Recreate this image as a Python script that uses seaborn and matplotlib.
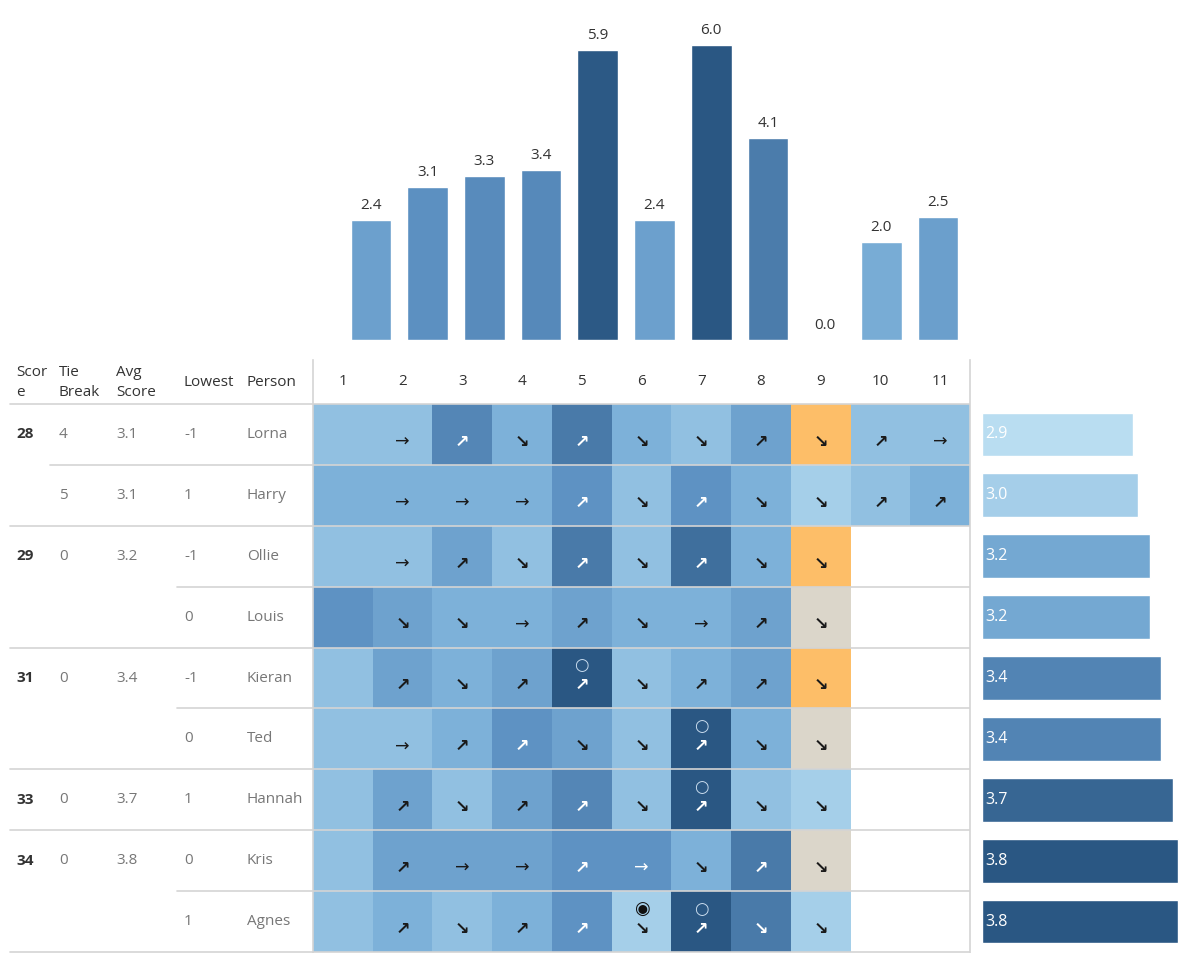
import numpy as np
import pandas as pd
import matplotlib
matplotlib.use("Agg")
import matplotlib.pyplot as plt
from matplotlib.colors import LinearSegmentedColormap, ListedColormap, Normalize
import seaborn as sns

# === Data ===
people = ["Lorna", "Harry", "Ollie", "Louis", "Kieran", "Ted", "Hannah", "Kris", "Agnes"]
rounds = ["1", "2", "3", "4", "5", "6", "7", "8", "9", "10", "11"]
tie_break = [4, 5, 0, 0, 0, 0, 0, 0, 0]

nan = np.nan
lorna = [2, 2, 6, 3, 7, 3, 2, 4, -1, 2, 2]
harry = [3, 3, 3, 3, 5, 2, 5, 3, 1, 2, 3]
ollie = [2, 2, 4, 2, 7, 2, 8, 3, -1, nan, nan]
louis = [5, 4, 3, 3, 4, 3, 3, 4, 0, nan, nan]
kieran = [2, 4, 3, 4, 10, 2, 3, 4, -1, nan, nan]
ted = [2, 2, 3, 5, 4, 2, 10, 3, 0, nan, nan]
hannah = [2, 4, 2, 4, 6, 2, 10, 2, 1, nan, nan]
kris = [2, 4, 4, 4, 5, 5, 3, 7, 0, nan, nan]
agnes = [2, 3, 2, 3, 5, 1, 10, 7, 1, nan, nan]

lowest_round = "9"

df = pd.DataFrame([lorna, harry, ollie, louis, kieran, ted, hannah, kris, agnes],
                  index=people, columns=rounds)

# === Derived values ===
score = df.loc[:, "1":lowest_round].sum(axis=1).astype(int)
avg_score = score / 9
lowest = df[lowest_round].astype(int)
row_means = df.mean(axis=1)
col_means = df.mean(axis=0)

# === Colours ===
tab_blue = LinearSegmentedColormap.from_list(
    "tab_blue", [(0, "#b9ddf1"), (0.3, "#7db1d9"), (0.5, "#5e92c3"), (1, "#2a5783")])
low_cmap = ListedColormap(["#fdbe68", "#dbd6ca"])
GRID = "#d4d4d4"
TXT = "#333333"
GREY = "#777777"

sns.set_theme(style="white")
plt.rcParams["font.family"] = ["Open Sans", "DejaVu Sans"]

W, H = 1200, 963
fig = plt.figure(figsize=(12, 9.63), dpi=100)


def px_axes(x0, y0, x1, y1):
    return fig.add_axes([x0 / W, 1 - y1 / H, (x1 - x0) / W, (y1 - y0) / H])


# === Top bars: round averages ===
ax_top = px_axes(342.6, 20, 966.4, 340)
top_norm = Normalize(0, col_means.max())
top_colors = [tab_blue(top_norm(v)) for v in col_means]
sns.barplot(x=rounds, y=col_means.values, hue=rounds, palette=top_colors, legend=False,
            width=0.72, saturation=1, ax=ax_top)
for k, v in enumerate(col_means.values):
    ax_top.annotate(f"{v:.1f}", (k, v), xytext=(0, 5), textcoords="offset points",
                    ha="center", va="bottom", fontsize=11, color=TXT)
ax_top.set_xlim(-0.5, 10.5)
ax_top.set_ylim(0, 6.5)
ax_top.axis("off")

# === Heatmap ===
ax_hm = px_axes(313, 404, 970, 952)
blue_part = df.where(df >= 1)
low_part = df.where(df <= 0)
sns.heatmap(blue_part, cmap=tab_blue, vmin=0, vmax=10, cbar=False, linewidths=0, ax=ax_hm)
sns.heatmap(low_part, cmap=low_cmap, vmin=-1.5, vmax=0.5, cbar=False, linewidths=0, ax=ax_hm)
vals = df.values
for i in range(len(people)):
    for j in range(len(rounds)):
        v = vals[i, j]
        if np.isnan(v):
            continue
        if j > 0 and not np.isnan(vals[i, j - 1]):
            d = v - vals[i, j - 1]
            sym = "→" if d == 0 else ("↗" if d > 0 else "↘")
            col = "white" if v >= 5 else "#1a1a1a"
            ax_hm.text(j + 0.5, i + 0.62, sym, ha="center", va="center", fontsize=12.5,
                       color=col, family="DejaVu Sans", fontweight="bold" if d != 0 else "normal")
        if v >= 10:
            ax_hm.text(j + 0.5, i + 0.29, "○", ha="center", va="center", fontsize=12,
                       color="#c9dcee", family="DejaVu Sans")
        elif v == 1 and rounds[j] != lowest_round:
            ax_hm.text(j + 0.5, i + 0.29, "◉", ha="center", va="center", fontsize=13,
                       color="#111111", family="DejaVu Sans")
for i in range(len(people) + 1):
    ax_hm.axhline(i, color=GRID, lw=1.2, clip_on=False)
ax_hm.set_xticks(np.arange(len(rounds)) + 0.5)
ax_hm.set_xticklabels(rounds, fontsize=11, color=TXT)
ax_hm.xaxis.tick_top()
ax_hm.tick_params(axis="x", length=0, pad=11)
ax_hm.set_yticks([])
ax_hm.set_xlabel("")
ax_hm.set_ylabel("")

# === Left table ===
ax_left = px_axes(0, 360, 313, 952)
ax_left.set_xlim(0, 313)
ax_left.set_ylim(8.5, -1.223)
for s in ["top", "left", "bottom"]:
    ax_left.spines[s].set_visible(False)
ax_left.spines["right"].set_color(GRID)
ax_left.spines["right"].set_linewidth(1.2)
ax_left.set_xticks([])
ax_left.set_yticks([])

col_x = [16, 59, 116, 184, 247]
line_x = [10, 50, 108, 177, 240]
headers = ["Scor\ne", "Tie\nBreak", "Avg\nScore", "Lowest", "Person"]
for x, h in zip(col_x, headers):
    ax_left.text(x, -0.86, h, ha="left", va="center", fontsize=11, color=TXT, linespacing=1.45)
ax_left.plot([10, 313], [-0.5, -0.5], color=GRID, lw=1.2)

keys = list(zip(score, tie_break, avg_score.round(3), lowest))
for i, name in enumerate(people):
    if i == 0:
        lvl = 0
    else:
        lvl = next((k for k in range(4) if keys[i][:k + 1] != keys[i - 1][:k + 1]), 4)
        ax_left.plot([line_x[lvl], 313], [i - 0.5, i - 0.5], color=GRID, lw=1.2)
    cells = [str(score.iloc[i]), str(tie_break[i]), f"{avg_score.iloc[i]:.1f}",
             str(lowest.iloc[i]), name]
    for k, (x, t) in enumerate(zip(col_x, cells)):
        if k < lvl:
            continue
        if k == 0:
            ax_left.text(x, i, t, ha="left", va="center", fontsize=11, color=TXT, fontweight="bold")
        else:
            ax_left.text(x, i, t, ha="left", va="center", fontsize=11, color=GREY)
ax_left.plot([10, 313], [8.5, 8.5], color=GRID, lw=1.2, clip_on=False)

# === Right bars: average per person ===
ax_right = px_axes(970, 360, 1200, 952)
r_norm = Normalize(row_means.min(), row_means.max())
r_colors = [tab_blue(r_norm(v)) for v in row_means]
sns.barplot(x=row_means.values, y=people, hue=people, palette=r_colors, legend=False,
            orient="h", width=0.72, saturation=1, ax=ax_right)
for i, v in enumerate(row_means.values):
    ax_right.text(0.06, i, f"{v:.1f}", ha="left", va="center", fontsize=11.5, color="white")
ax_right.set_xlim(-12 / 52, 218 / 52)
ax_right.set_ylim(8.5, -1.223)
for s in ["top", "right", "bottom"]:
    ax_right.spines[s].set_visible(False)
ax_right.spines["left"].set_color(GRID)
ax_right.spines["left"].set_linewidth(1.2)
ax_right.set_xticks([])
ax_right.set_yticks([])
ax_right.set_xlabel("")
ax_right.set_ylabel("")

fig.savefig("out.png", dpi=100)
